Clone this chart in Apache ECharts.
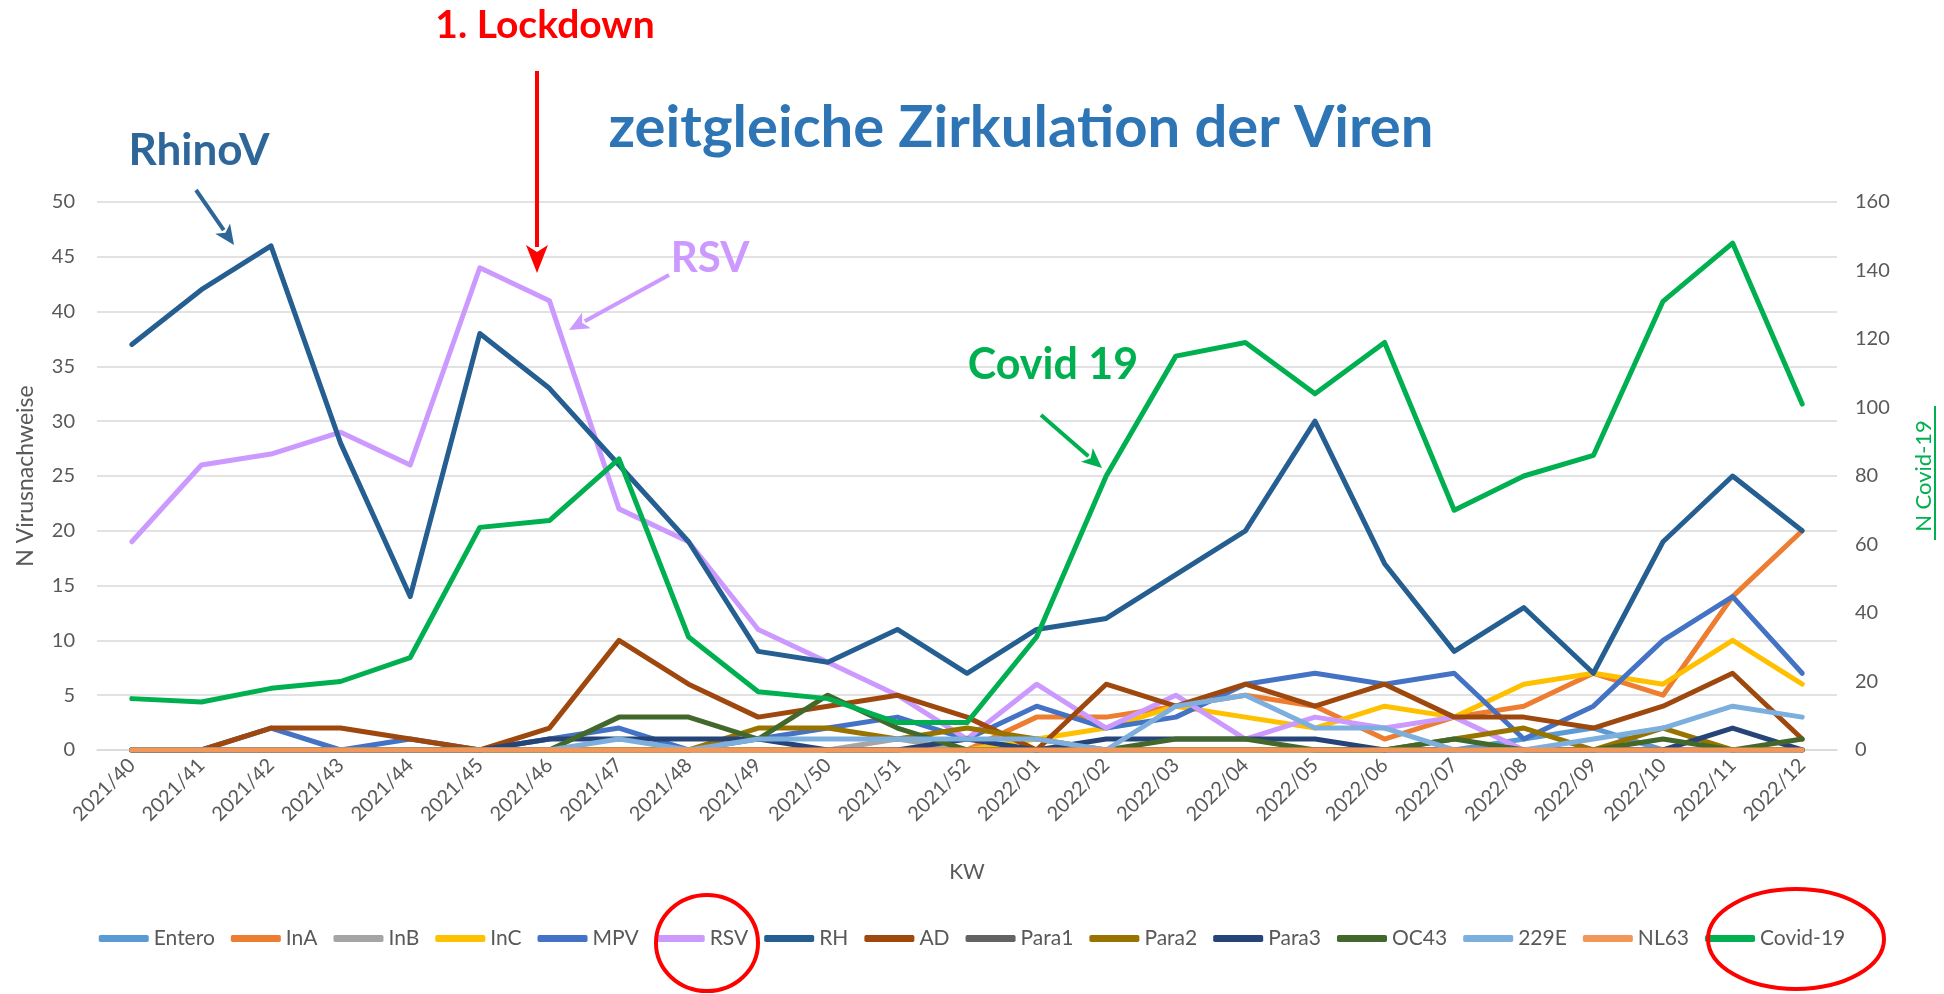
<!DOCTYPE html>
<html>
<head>
<meta charset="utf-8">
<script src="https://cdn.jsdelivr.net/npm/echarts@6/dist/echarts.min.js"></script>
<style>
html,body{margin:0;padding:0;background:#fff;}
#c{width:1944px;height:994px;}
</style>
</head>
<body>
<div id="c"></div>
<script>
const categories = ['2021/40','2021/41','2021/42','2021/43','2021/44','2021/45','2021/46','2021/47','2021/48','2021/49','2021/50','2021/51','2021/52','2022/01','2022/02','2022/03','2022/04','2022/05','2022/06','2022/07','2022/08','2022/09','2022/10','2022/11','2022/12'];
const entero = [0,0,0,0,0,0,0,0,0,0,0,0,0,0,0,0,0,0,0,0,1,2,0,0,0];
const inA    = [0,0,0,0,0,0,0,0,0,0,0,0,0,3,3,4,5,4,1,3,4,7,5,14,20];
const inB    = [0,0,0,0,0,0,0,0,0,0,0,1,0,0,0,0,0,0,0,0,0,0,0,0,0];
const inC    = [0,0,0,0,0,0,0,0,0,0,0,0,0,1,2,4,3,2,4,3,6,7,6,10,6];
const mpv    = [0,0,2,0,1,0,1,2,0,1,2,3,1,4,2,3,6,7,6,7,1,4,10,14,7];
const rsv    = [19,26,27,29,26,44,41,22,19,11,8,5,1,6,2,5,1,3,2,3,0,0,0,0,0];
const rh     = [37,42,46,28,14,38,33,26,19,9,8,11,7,11,12,16,20,30,17,9,13,7,19,25,20];
const ad     = [0,0,2,2,1,0,2,10,6,3,4,5,3,0,6,4,6,4,6,3,3,2,4,7,1];
const para1  = [0,0,0,0,0,0,0,0,0,0,0,0,0,0,0,0,0,0,0,0,0,0,0,0,0];
const para2  = [0,0,0,0,0,0,0,0,0,2,2,1,2,1,0,0,0,0,0,1,2,0,2,0,0];
const para3  = [0,0,0,0,0,0,1,1,1,1,0,0,1,0,1,1,1,1,0,0,0,0,0,2,0];
const oc43   = [0,0,0,0,0,0,0,3,3,1,5,2,0,0,0,1,1,0,0,1,0,0,1,0,1];
const e229   = [0,0,0,0,0,0,0,1,0,1,1,1,1,1,0,4,5,2,2,0,0,1,2,4,3];
const nl63   = [0,0,0,0,0,0,0,0,0,0,0,0,0,0,0,0,0,0,0,0,0,0,0,0,0];
const covid  = [15,14,18,20,27,65,67,85,33,17,15,8,8,33,80,115,119,104,119,70,80,86,131,148,101];

const seriesDefs = [
  ['Entero', entero, '#5B9BD5'],
  ['InA', inA, '#ED7D31'],
  ['InB', inB, '#A5A5A5'],
  ['InC', inC, '#FFC000'],
  ['MPV', mpv, '#4472C4'],
  ['RSV', rsv, '#CC99FF'],
  ['RH', rh, '#255E91'],
  ['AD', ad, '#9E480E'],
  ['Para1', para1, '#636363'],
  ['Para2', para2, '#997300'],
  ['Para3', para3, '#264478'],
  ['OC43', oc43, '#43682B'],
  ['229E', e229, '#7CAFDD'],
  ['NL63', nl63, '#F1975A'],
  ['Covid-19', covid, '#00B050']
];

const FONT = 'Lato, "Open Sans", sans-serif';
const series = seriesDefs.map(([name, data, color]) => ({
  name, type: 'line', data,
  yAxisIndex: name === 'Covid-19' ? 1 : 0,
  symbol: 'none', smooth: false,
  color,
  lineStyle: { color, width: 5, cap: 'round', join: 'round' },
  emphasis: { disabled: true }
}));

function arrow(x1, y1, x2, y2, color, w, hl, hw) {
  const dx = x2 - x1, dy = y2 - y1, L = Math.hypot(dx, dy);
  const ux = dx / L, uy = dy / L, px = -uy, py = ux;
  const bx = x2 - ux * hl, by = y2 - uy * hl;
  return [
    { type: 'line', shape: { x1, y1, x2: bx + ux * 2, y2: by + uy * 2 }, style: { stroke: color, lineWidth: w }, z: 100 },
    { type: 'polygon', shape: { points: [[x2, y2], [bx + px * hw, by + py * hw], [x2 - ux * hl * 0.75, y2 - uy * hl * 0.75], [bx - px * hw, by - py * hw]] }, style: { fill: color }, z: 100 }
  ];
}
function label(x, y, text, color, size) {
  return { type: 'text', x, y, z: 100, style: { text, fill: color, fontSize: size, fontWeight: 'bold', fontFamily: FONT, align: 'center', verticalAlign: 'middle' } };
}

const chart = echarts.init(document.getElementById('c'), null, { renderer: 'canvas' });
chart.setOption({
  animation: false,
  backgroundColor: '#ffffff',
  textStyle: { fontFamily: FONT },
  grid: { left: 97, right: 107, top: 202, bottom: 244, containLabel: false },
  legend: {
    bottom: 40, left: 'center',
    itemWidth: 50, itemHeight: 7, itemGap: 16,
    icon: 'roundRect',
    textStyle: { color: '#595959', fontSize: 21, fontFamily: FONT },
    data: seriesDefs.map(d => d[0])
  },
  xAxis: {
    type: 'category', data: categories, boundaryGap: true,
    name: 'KW', nameLocation: 'middle', nameGap: 112,
    nameTextStyle: { color: '#595959', fontSize: 21 },
    axisLine: { show: true, lineStyle: { color: '#D9D9D9', width: 1.5 } },
    axisTick: { show: false },
    axisLabel: { rotate: 45, color: '#595959', fontSize: 20, margin: 12, interval: 0 }
  },
  yAxis: [
    {
      type: 'value', min: 0, max: 50, interval: 5,
      name: 'N Virusnachweise', nameLocation: 'middle', nameGap: 60, nameRotate: 90,
      nameTextStyle: { color: '#595959', fontSize: 23 },
      axisLine: { show: false }, axisTick: { show: false },
      axisLabel: { color: '#595959', fontSize: 20, margin: 22 },
      splitLine: { lineStyle: { color: '#D9D9D9', width: 1.5 } }
    },
    {
      type: 'value', min: 0, max: 160, interval: 20, position: 'right',
      name: 'N Covid-19', nameLocation: 'middle', nameGap: 76, nameRotate: 90,
      nameTextStyle: { color: '#00B050', fontSize: 22 },
      axisLine: { show: false }, axisTick: { show: false },
      axisLabel: { color: '#595959', fontSize: 20, margin: 18 },
      splitLine: { show: false }
    }
  ],
  series,
  graphic: [
    label(1021, 128, 'zeitgleiche Zirkulation der Viren', '#2E75B6', 58),
    label(545, 25, '1. Lockdown', '#FF0000', 39),
    label(199, 151, 'RhinoV', '#2E6699', 44),
    label(710, 258, 'RSV', '#CC99FF', 42),
    label(1053, 365, 'Covid 19', '#00B050', 43),
    ...arrow(537, 71, 537, 273, '#FF0000', 4, 28, 11),
    ...arrow(196, 190, 234, 245, '#2E6699', 4, 20, 9),
    ...arrow(669, 275, 569, 330, '#CC99FF', 4, 20, 9),
    ...arrow(1041, 415, 1102, 468, '#00B050', 4, 20, 9),
    { type: 'rect', shape: { x: 1934, y: 406, width: 2, height: 134 }, style: { fill: '#00B050' }, z: 100 },
    { type: 'ellipse', shape: { cx: 707, cy: 943, rx: 51, ry: 48 }, style: { fill: 'none', stroke: '#FF0000', lineWidth: 4 }, z: 100 },
    { type: 'ellipse', shape: { cx: 1796, cy: 939, rx: 88, ry: 50 }, style: { fill: 'none', stroke: '#FF0000', lineWidth: 4 }, z: 100 }
  ]
});
</script>
</body>
</html>
